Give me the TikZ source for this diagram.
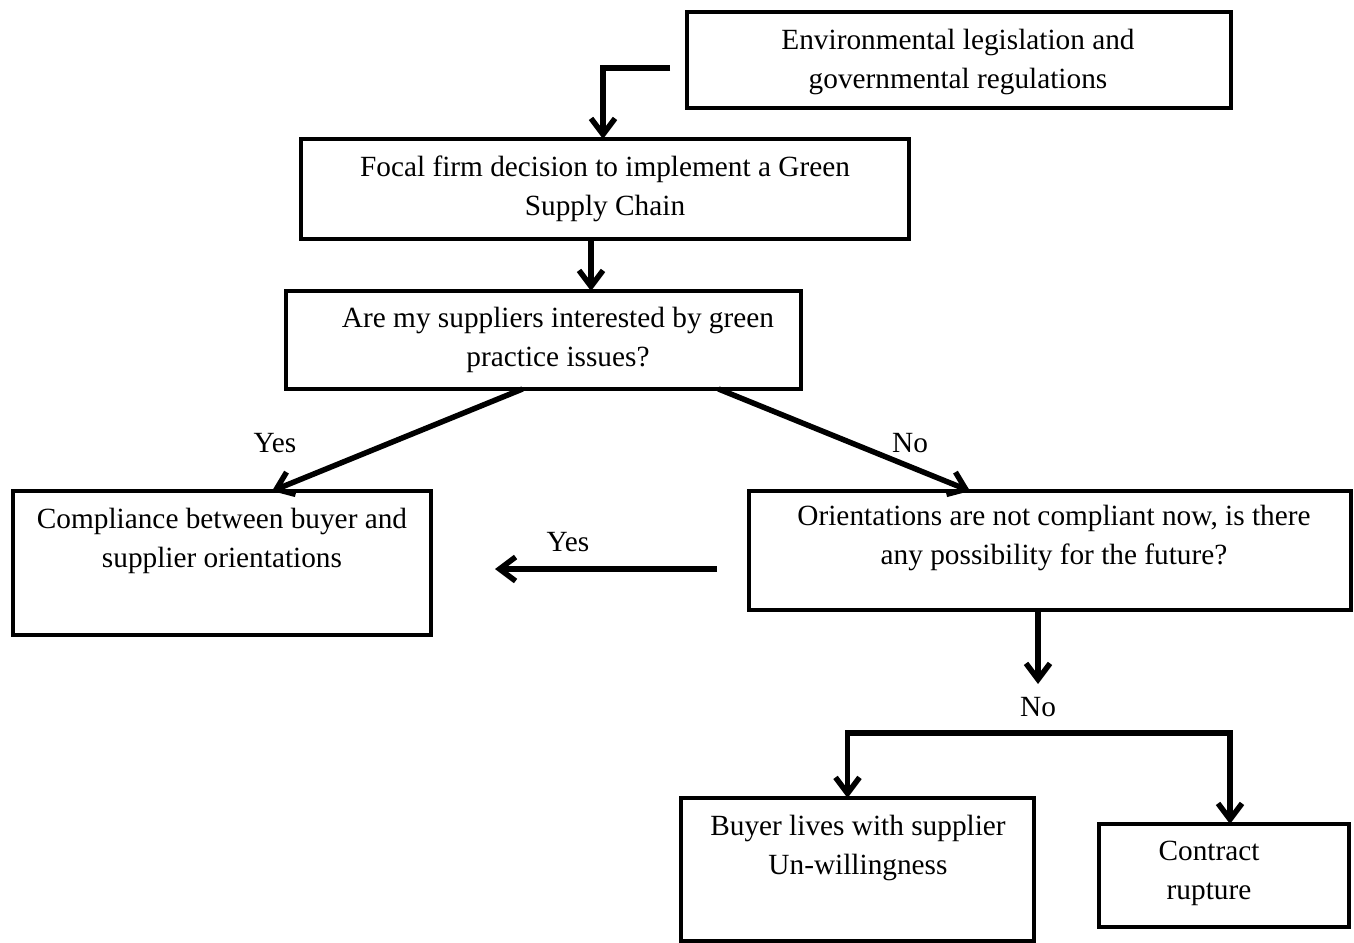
\documentclass[tikz,border=0pt]{standalone}
\usepackage{fontspec}
\setmainfont{Liberation Serif}
\usetikzlibrary{arrows.meta,calc}
\begin{document}
\begin{tikzpicture}[x=1pt,y=-1pt,
  box/.style={draw=black,line width=4pt,anchor=north west,inner sep=0pt,outer sep=0pt},
  txt/.style={align=center,font=\fontsize{29.3}{39}\selectfont,inner sep=0pt},
  lbl/.style={font=\fontsize{29.3}{39}\selectfont,inner sep=0pt},
  arr/.style={line width=5.5pt,-{Straight Barb[length=16pt,width=24pt,line width=5.5pt]}},
  ]
\useasboundingbox (0,0) rectangle (1354,942);
% boxes
\node[box,minimum width=544pt,minimum height=96pt] (env) at (687,12) {};
\node[box,minimum width=608pt,minimum height=100pt] (focal) at (301,139) {};
\node[box,minimum width=515pt,minimum height=98pt] (are) at (286,291) {};
\node[box,minimum width=418pt,minimum height=144pt] (comp) at (13,491) {};
\node[box,minimum width=602pt,minimum height=119pt] (orient) at (749,491) {};
\node[box,minimum width=353pt,minimum height=143pt] (buyer) at (681,798) {};
\node[box,minimum width=250pt,minimum height=103pt] (contract) at (1099,824) {};
% texts
\node[txt] (tenv) at (958,62) {Environmental legislation and\\governmental regulations};
\node[txt] (tfocal) at (605,189) {Focal firm decision to implement a Green\\Supply Chain};
\node[txt] (tare) at (558,340) {Are my suppliers interested by green\\practice issues?};
\node[txt] (tcomp) at (222,541) {Compliance between buyer and\\supplier orientations};
\node[txt] (torient) at (1054,538) {Orientations are not compliant now, is there\\any possibility for the future?};
\node[txt] (tbuyer) at (858,848) {Buyer lives with supplier\\Un-willingness};
\node[txt] (tcontract) at (1209,873) {Contract\\rupture};
% labels
\node[lbl] (yes1) at (275,443) {Yes};
\node[lbl] (no1) at (910,443) {No};
\node[lbl] (yes2) at (568,542) {Yes};
\node[lbl] (no2) at (1038,707) {No};
% connectors
\coordinate (e1) at (670,68);
\draw[arr] (e1) -| ([xshift=-2pt]focal.north);
\draw[arr] ([xshift=-14pt]focal.south) -- ([xshift=-14pt]focal.south |- are.north);
\draw[arr] ([xshift=-21pt]are.south) -- ([xshift=50pt]comp.north);
\draw[arr] ([xshift=175pt]are.south) -- ([xshift=-80pt]orient.north);
\coordinate (y2s) at (717,569);
\coordinate (y2e) at (495,569);
\draw[arr] (y2s) -- (y2e);
\coordinate (ndown) at (1038,684);
\draw[arr] ([xshift=-12pt]orient.south) -- (ndown);
\coordinate (br) at (1038,733);
\draw[arr] (br) -| ([xshift=-10pt]buyer.north);
\draw[arr] (br) -| ([xshift=6pt]contract.north);
\end{tikzpicture}
\end{document}
